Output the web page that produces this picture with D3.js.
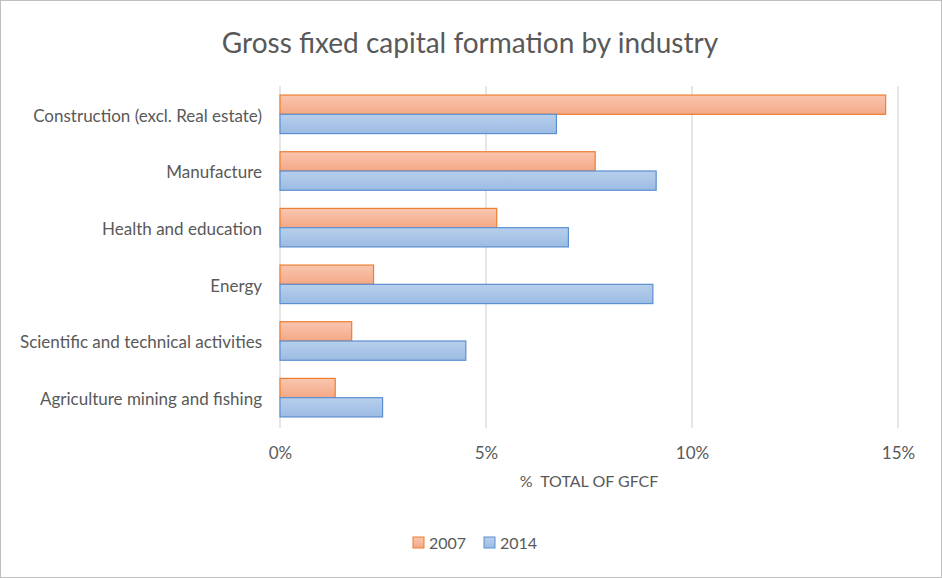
<!DOCTYPE html>
<html>
<head>
<meta charset="utf-8">
<script src="https://cdn.jsdelivr.net/npm/d3@7"></script>
<style>
  body { margin: 0; background: #fff; }
  text { font-family: Lato, "Open Sans", sans-serif; fill: #595959; }
</style>
</head>
<body>
<div id="chart"></div>
<script>
// data
const categories = [
  "Construction (excl. Real estate)",
  "Manufacture",
  "Health and education",
  "Energy",
  "Scientific and technical activities",
  "Agriculture mining and fishing"
];
const seriesNames = ["2007", "2014"];
const values2007 = [14.7, 7.65, 5.26, 2.27, 1.74, 1.34];
const values2014 = [6.71, 9.13, 7.0, 9.05, 4.51, 2.49];
const xTicks = [0, 5, 10, 15];

const width = 942, height = 578;
const margin = {top: 86, right: 44, bottom: 152, left: 280};

const colors = {
  "2007": {top: "#f9c6af", bottom: "#f4a886", stroke: "#ed7d31"},
  "2014": {top: "#b7cfec", bottom: "#9cbbe3", stroke: "#5b8fd0"}
};

const svg = d3.select('#chart')
  .append('svg')
  .attr('width', width)
  .attr('height', height);

// gradients for the bars
const defs = svg.append('defs');
seriesNames.forEach(function(s) {
  const g = defs.append('linearGradient')
    .attr('id', 'grad' + s)
    .attr('x1', '0%').attr('y1', '0%')
    .attr('x2', '0%').attr('y2', '100%');
  g.append('stop').attr('offset', '0%').attr('stop-color', colors[s].top);
  g.append('stop').attr('offset', '100%').attr('stop-color', colors[s].bottom);
});

svg.append('rect')
  .attr('x', 0.5).attr('y', 0.5)
  .attr('width', width - 1).attr('height', height - 1)
  .attr('fill', '#fff')
  .attr('stroke', '#bfbfbf');

const x = d3.scaleLinear()
  .domain([0, 15])
  .range([margin.left, width - margin.right]);

const y = d3.scaleBand()
  .domain(categories)
  .range([margin.top, height - margin.bottom])
  .paddingInner(0.32)
  .paddingOuter(0.16);

const ySub = d3.scaleBand()
  .domain(seriesNames)
  .range([0, y.bandwidth()]);

// gridlines
svg.append('g')
  .selectAll('line')
  .data(xTicks)
  .enter()
  .append('line')
  .attr('x1', d => x(d)).attr('x2', d => x(d))
  .attr('y1', margin.top).attr('y2', height - margin.bottom + 2)
  .attr('stroke', '#d9d9d9')
  .attr('stroke-width', 1.3);

// x axis labels
const xAxis = d3.axisBottom(x)
  .tickValues(xTicks)
  .tickFormat(d => d + '%')
  .tickSize(0)
  .tickPadding(21);
const xg = svg.append('g')
  .attr('transform', `translate(0,${height - margin.bottom})`)
  .call(xAxis);
xg.select('.domain').remove();
xg.selectAll('text')
  .style('font-size', '17px')
  .attr('fill', '#595959');

// y axis labels
const yAxis = d3.axisLeft(y).tickSize(0).tickPadding(18);
const yg = svg.append('g')
  .attr('transform', `translate(${margin.left},2)`)
  .call(yAxis);
yg.select('.domain').remove();
yg.selectAll('text')
  .style('font-size', '17px')
  .attr('fill', '#595959');

// bars
const rows = categories.map(function(c, i) {
  return {cat: c, vals: [{s: "2007", v: values2007[i]}, {s: "2014", v: values2014[i]}]};
});

const groups = svg.append('g')
  .selectAll('g')
  .data(rows)
  .enter()
  .append('g')
  .attr('transform', d => `translate(0,${y(d.cat)})`);

groups.selectAll('rect')
  .data(d => d.vals)
  .enter()
  .append('rect')
  .attr('x', x(0))
  .attr('y', d => ySub(d.s))
  .attr('width', d => x(d.v) - x(0))
  .attr('height', ySub.bandwidth())
  .attr('fill', d => `url(#grad${d.s})`)
  .attr('stroke', d => colors[d.s].stroke)
  .attr('stroke-width', 1.2);

// title
svg.append('text')
  .attr('x', 470)
  .attr('y', 53)
  .attr('text-anchor', 'middle')
  .style('font-size', '28px')
  .text('Gross fixed capital formation by industry');

// axis title
svg.append('text')
  .attr('x', (x(0) + x(15)) / 2)
  .attr('y', 487)
  .attr('text-anchor', 'middle')
  .style('font-size', '16px')
  .attr('xml:space', 'preserve')
  .style('white-space', 'pre')
  .text('%  TOTAL OF GFCF');

// legend
const legend = svg.append('g').attr('transform', 'translate(413,537)');
const legendX = [0, 71];
seriesNames.forEach(function(s, i) {
  const lg = legend.append('g').attr('transform', `translate(${legendX[i]},0)`);
  lg.append('rect')
    .attr('width', 11).attr('height', 11)
    .attr('fill', `url(#grad${s})`)
    .attr('stroke', colors[s].stroke);
  lg.append('text')
    .attr('x', 16).attr('y', 12)
    .style('font-size', '16px')
    .text(s);
});
</script>
</body>
</html>
